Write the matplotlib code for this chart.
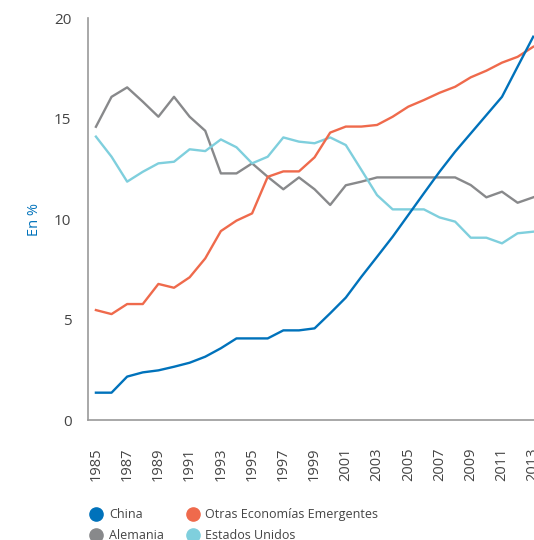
import matplotlib
matplotlib.use("Agg")
import matplotlib.pyplot as plt
from matplotlib.lines import Line2D

years = list(range(1985, 2014))

china = [1.36, 1.36, 2.16, 2.37, 2.47, 2.65, 2.85, 3.15, 3.57, 4.06,
         4.06, 4.06, 4.46, 4.46, 4.56, 5.31, 6.09, 7.13, 8.12, 9.12,
         10.2, 11.28, 12.35, 13.35, 14.26, 15.17, 16.08, 17.58, 19.07]
otras = [5.47, 5.27, 5.77, 5.77, 6.77, 6.58, 7.1, 8.04, 9.4, 9.92,
         10.28, 12.1, 12.37, 12.37, 13.07, 14.3, 14.6, 14.6, 14.68, 15.09,
         15.59, 15.92, 16.28, 16.58, 17.05, 17.38, 17.78, 18.07, 18.57]
alemania = [14.59, 16.08, 16.55, 15.84, 15.09, 16.08, 15.09, 14.39, 12.27, 12.27,
            12.77, 12.1, 11.48, 12.07, 11.48, 10.7, 11.68, 11.86, 12.07, 12.07,
            12.07, 12.07, 12.07, 12.07, 11.69, 11.08, 11.36, 10.81, 11.08]
eeuu = [14.1, 13.1, 11.86, 12.35, 12.77, 12.85, 13.47, 13.38, 13.96, 13.57,
        12.77, 13.1, 14.06, 13.85, 13.77, 14.06, 13.68, 12.44, 11.19, 10.48,
        10.48, 10.48, 10.08, 9.87, 9.07, 9.07, 8.79, 9.29, 9.37]

names = ["China", "Alemania", "Otras Economías Emergentes", "Estados Unidos"]
colors = {"China": "#0072bb", "Alemania": "#88898b",
          "Otras Economías Emergentes": "#ef6a4c", "Estados Unidos": "#7fcfdd"}
series = {"China": china, "Alemania": alemania,
          "Otras Economías Emergentes": otras, "Estados Unidos": eeuu}

TXT = "#444444"
plt.rcParams["font.family"] = ["Open Sans", "DejaVu Sans"]

fig = plt.figure(figsize=(5.34, 5.40), dpi=100)
ax = fig.add_axes([0.165, 0.2222, 0.835, 0.7444])

# draw back to front like the original
for n in ["Alemania", "Estados Unidos", "Otras Economías Emergentes", "China"]:
    ax.plot(years, series[n], color=colors[n], lw=1.7, solid_joinstyle="round")

ax.set_xlim(1984.5, 2013.05)
ax.set_ylim(0, 20)
ax.set_yticks([0, 5, 10, 15, 20])
ax.set_xticks(years[::2])
ax.set_xticklabels([str(y) for y in years[::2]], rotation=90)
ax.tick_params(axis="y", length=0, pad=12, labelsize=11, labelcolor=TXT)
ax.tick_params(axis="x", length=0, pad=20, labelsize=10.5, labelcolor=TXT)
for s in ("top", "right"):
    ax.spines[s].set_visible(False)
for s in ("left", "bottom"):
    ax.spines[s].set_color("#9a9a9a")
    ax.spines[s].set_linewidth(1.2)
ax.set_ylabel("En %", color="#0072bb", fontsize=10.5, labelpad=9)

handles = [Line2D([], [], ls="", marker="o", ms=9.5, color=colors[n]) for n in names]
fig.legend(handles, names, loc="upper left", bbox_to_anchor=(0.169, 0.059),
           ncol=2, frameon=False, fontsize=9, handletextpad=0.5,
           columnspacing=1.8, labelspacing=0.62, borderaxespad=0, borderpad=0,
           labelcolor=TXT, handlelength=1.0)

fig.savefig("out.png", dpi=100)
